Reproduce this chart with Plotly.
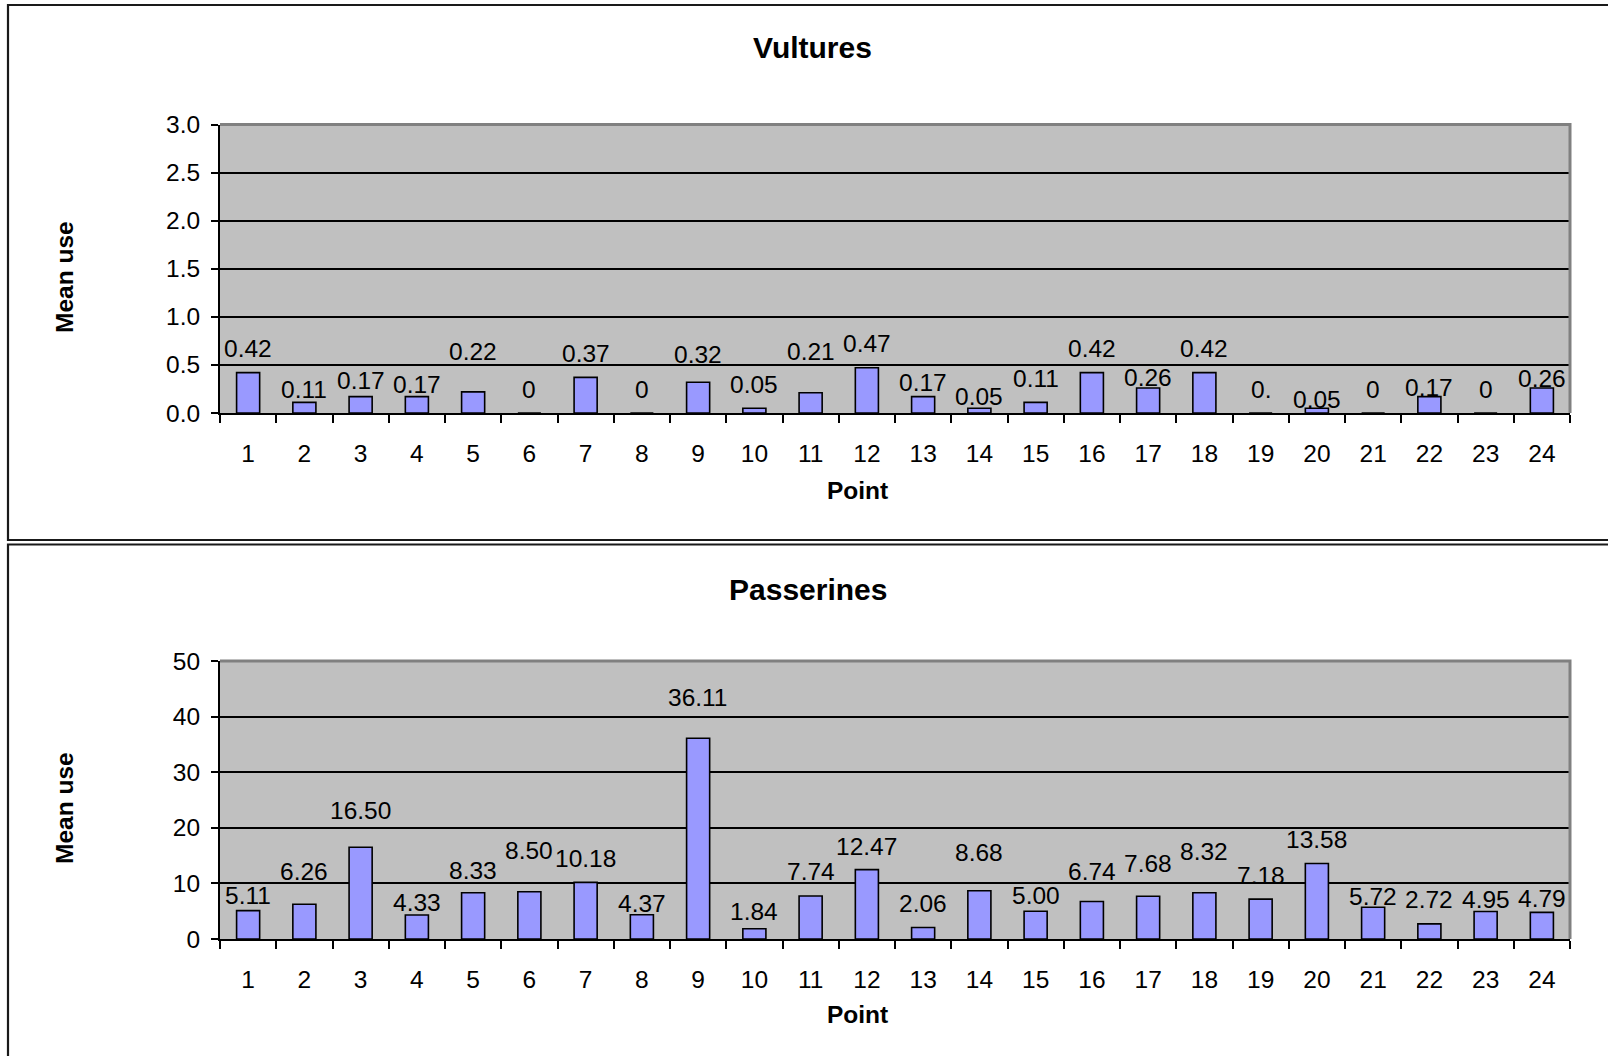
import plotly.graph_objects as go

# ---------------- data ----------------
points = [str(i) for i in range(1, 25)]
vultures = [0.42, 0.11, 0.17, 0.17, 0.22, 0, 0.37, 0, 0.32, 0.05, 0.21, 0.47,
            0.17, 0.05, 0.11, 0.42, 0.26, 0.42, 0, 0.05, 0, 0.17, 0, 0.26]
passerines = [5.11, 6.26, 16.50, 4.33, 8.33, 8.50, 10.18, 4.37, 36.11, 1.84, 7.74, 12.47,
              2.06, 8.68, 5.00, 6.74, 7.68, 8.32, 7.18, 13.58, 5.72, 2.72, 4.95, 4.79]
vulture_ticks = [0, 0.5, 1.0, 1.5, 2.0, 2.5, 3.0]
passerine_ticks = [0, 10, 20, 30, 40, 50]

vulture_labels = ["0" if v == 0 else f"{v:.2f}" for v in vultures]
vulture_labels[18] = "0."          # label appears truncated in the source chart
passerine_labels = [f"{v:.2f}" for v in passerines]

# ---------------- styling ----------------
# pixel nudge of each data label centre above its bar top (as placed in the source)
vulture_nudge = [24, 13, 16, 12, 40, 24, 24, 24, 28, 24, 41, 24,
                 14, 12, 24, 24, 11, 24, 24, 9, 24, 9, 24, 10]
passerine_nudge = [15, 33, 37, 12, 22, 41, 24, 11, 41, 17, 24, 23,
                   24, 38, 16, 30, 33, 41, 24, 24, 11, 24, 12, 14]

W, H = 1608, 1056
FONT = "Liberation Sans, Arial, sans-serif"
BAR = "#9999FF"
FS = 24.5


def px(x):
    return x / W


def py(y):
    return 1 - y / H


PLOT_L, PLOT_R = 220, 1570
TOP_T, TOP_B = 124.5, 413
BOT_T, BOT_B = 661, 939

fig = go.Figure()
fig.add_trace(go.Bar(x=points, y=vultures, xaxis="x", yaxis="y", width=0.41,
                     marker=dict(color=BAR, line=dict(color="black", width=1.6)),
                     hoverinfo="x+y", showlegend=False))
fig.add_trace(go.Bar(x=points, y=passerines, xaxis="x2", yaxis="y2", width=0.41,
                     marker=dict(color=BAR, line=dict(color="black", width=1.6)),
                     hoverinfo="x+y", showlegend=False))

xcommon = dict(type="category", tickson="boundaries", ticks="outside", ticklen=8,
               tickwidth=2, tickcolor="black", showline=True, linecolor="black",
               linewidth=2, showgrid=False, tickfont=dict(family=FONT, size=FS, color="black"),
               ticklabelstandoff=18, range=[-0.5, 23.5], fixedrange=True, automargin=False)
ycommon = dict(ticks="outside", ticklen=7, tickwidth=2, tickcolor="black",
               showline=True, linecolor="black", linewidth=2, showgrid=True,
               gridcolor="black", gridwidth=2, zeroline=False,
               tickfont=dict(family=FONT, size=FS, color="black"),
               ticklabelstandoff=6, fixedrange=True, automargin=False)

fig.update_layout(
    width=W, height=H,
    margin=dict(l=0, r=0, t=0, b=0, pad=0, autoexpand=False),
    paper_bgcolor="white", plot_bgcolor="#C0C0C0",
    xaxis=dict(domain=[px(PLOT_L), px(PLOT_R)], anchor="y", **xcommon),
    yaxis=dict(domain=[py(TOP_B), py(TOP_T)], anchor="x", range=[0, 3],
               tickvals=vulture_ticks, ticktext=[f"{t:.1f}" for t in vulture_ticks], **ycommon),
    xaxis2=dict(domain=[px(PLOT_L), px(PLOT_R)], anchor="y2", **xcommon),
    yaxis2=dict(domain=[py(BOT_B), py(BOT_T)], anchor="x2", range=[0, 50],
                tickvals=passerine_ticks, ticktext=[str(t) for t in passerine_ticks], **ycommon),
)

shapes = []
# panel frames
shapes.append(dict(type="rect", xref="paper", yref="paper", x0=px(8), x1=px(1640),
                   y0=py(540), y1=py(5), line=dict(color="#1a1a1a", width=2.2)))
shapes.append(dict(type="rect", xref="paper", yref="paper", x0=px(8), x1=px(1640),
                   y0=py(1100), y1=py(544.5), line=dict(color="#1a1a1a", width=2.2)))
# plot-area top/right border (gray)
for t, b in ((TOP_T, TOP_B), (BOT_T, BOT_B)):
    shapes.append(dict(type="path", xref="paper", yref="paper",
                       path=f"M {px(PLOT_L)},{py(t)} L {px(PLOT_R)},{py(t)} L {px(PLOT_R)},{py(b)}",
                       line=dict(color="#808080", width=3), layer="above"))
fig.update_layout(shapes=shapes)

ann = []
label_font = dict(family=FONT, size=FS, color="black")
for i in range(len(points)):
    ann.append(dict(x=i, y=vultures[i], xref="x", yref="y", text=vulture_labels[i],
                    showarrow=False, yanchor="middle", yshift=vulture_nudge[i], font=label_font))
    ann.append(dict(x=i, y=passerines[i], xref="x2", yref="y2", text=passerine_labels[i],
                    showarrow=False, yanchor="middle", yshift=passerine_nudge[i], font=label_font))

title_font = dict(family=FONT, size=30, color="black")
axis_font = dict(family=FONT, size=FS, color="black")
ann += [
    dict(x=px(812), y=py(48), xref="paper", yref="paper", text="<b>Vultures</b>",
         showarrow=False, font=title_font, xanchor="center", yanchor="middle"),
    dict(x=px(808), y=py(589), xref="paper", yref="paper", text="<b>Passerines</b>",
         showarrow=False, font=title_font, xanchor="center", yanchor="middle"),
    dict(x=px(857), y=py(490), xref="paper", yref="paper", text="<b>Point</b>",
         showarrow=False, font=axis_font, xanchor="center", yanchor="middle"),
    dict(x=px(857), y=py(1014), xref="paper", yref="paper", text="<b>Point</b>",
         showarrow=False, font=axis_font, xanchor="center", yanchor="middle"),
    dict(x=px(64), y=py(277), xref="paper", yref="paper", text="<b>Mean use</b>",
         showarrow=False, font=axis_font, textangle=-90, xanchor="center", yanchor="middle"),
    dict(x=px(64), y=py(808), xref="paper", yref="paper", text="<b>Mean use</b>",
         showarrow=False, font=axis_font, textangle=-90, xanchor="center", yanchor="middle"),
]
fig.update_layout(annotations=ann)

fig.write_html("out.html", config={"displayModeBar": False},
               post_script="document.body.style.margin='0px';")
